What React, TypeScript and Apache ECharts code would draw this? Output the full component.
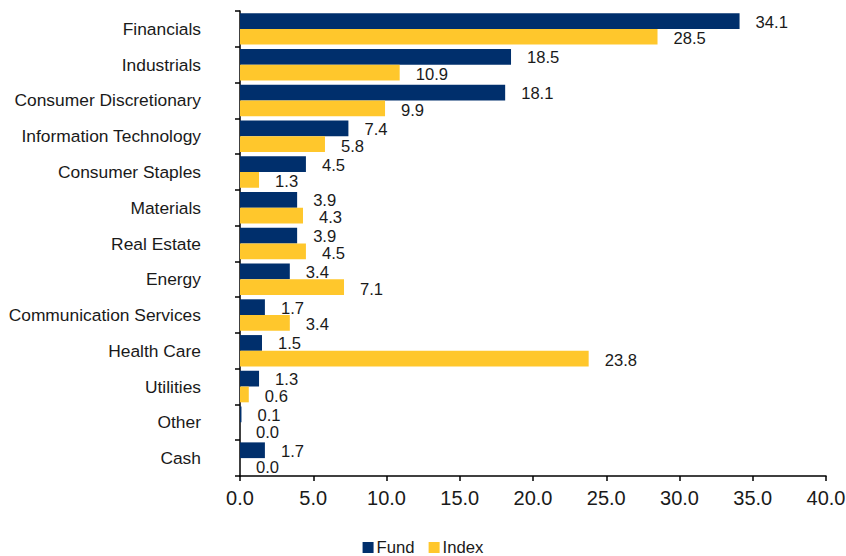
import React, { useEffect, useRef } from "react";
import * as echarts from "echarts";

const categories = [
  "Financials",
  "Industrials",
  "Consumer Discretionary",
  "Information Technology",
  "Consumer Staples",
  "Materials",
  "Real Estate",
  "Energy",
  "Communication Services",
  "Health Care",
  "Utilities",
  "Other",
  "Cash",
];
const fundValues = [34.1, 18.5, 18.1, 7.4, 4.5, 3.9, 3.9, 3.4, 1.7, 1.5, 1.3, 0.1, 1.7];
const indexValues = [28.5, 10.9, 9.9, 5.8, 1.3, 4.3, 4.5, 7.1, 3.4, 23.8, 0.6, 0.0, 0.0];
const seriesNames = ["Fund", "Index"];

const FONT = "Liberation Sans, Arial, sans-serif";

export default function App() {
  const ref = useRef<HTMLDivElement>(null);
  useEffect(() => {
    if (!ref.current) return;
    const chart = echarts.init(ref.current, undefined, { renderer: "svg" });
    const mkLabel = (dy: number) => ({
      show: true,
      position: "right",
      distance: 16,
      offset: [0, dy],
      fontSize: 16.6,
      color: "#1a1a1a",
      fontFamily: FONT,
      formatter: (p: any) => Number(p.value).toFixed(1),
    });
    chart.setOption({
      animation: false,
      textStyle: { fontFamily: FONT },
      grid: {
        left: 240,
        right: 20,
        top: 11,
        bottom: 80,
        containLabel: false,
        outerBoundsMode: "none",
      },
      legend: {
        top: 539,
        left: "center",
        padding: 0,
        itemWidth: 11,
        itemHeight: 11,
        itemGap: 14,
        icon: "rect",
        textStyle: {
          fontSize: 16.7,
          lineHeight: 17,
          color: "#1a1a1a",
          fontFamily: FONT,
          padding: [0, 0, 0, -2],
        },
        data: seriesNames,
      },
      xAxis: {
        type: "value",
        min: 0,
        max: 40,
        interval: 5,
        splitLine: { show: false },
        axisLine: { show: true, lineStyle: { color: "#000", width: 1.5 } },
        axisTick: { show: true, length: 5, lineStyle: { color: "#000", width: 1.5 } },
        axisLabel: {
          fontSize: 20,
          color: "#1a1a1a",
          margin: 12,
          fontFamily: FONT,
          formatter: (v: number) => v.toFixed(1),
        },
      },
      yAxis: {
        type: "category",
        inverse: true,
        data: categories,
        axisLine: { show: true, lineStyle: { color: "#000", width: 1.5 } },
        axisTick: { show: true, length: 5, lineStyle: { color: "#000", width: 1.5 } },
        axisLabel: { fontSize: 17.4, color: "#1a1a1a", margin: 39, fontFamily: FONT },
      },
      series: [
        {
          name: seriesNames[0],
          type: "bar",
          data: fundValues,
          barGap: "0%",
          barCategoryGap: "12%",
          itemStyle: { color: "#002F6C" },
          label: mkLabel(1),
        },
        {
          name: seriesNames[1],
          type: "bar",
          data: indexValues,
          barGap: "0%",
          barCategoryGap: "12%",
          itemStyle: { color: "#FFC72C" },
          label: mkLabel(2),
        },
      ],
    });
    return () => chart.dispose();
  }, []);
  return <div ref={ref} style={{ width: 846, height: 556, position: "absolute", left: 0, top: 0 }} />;
}
